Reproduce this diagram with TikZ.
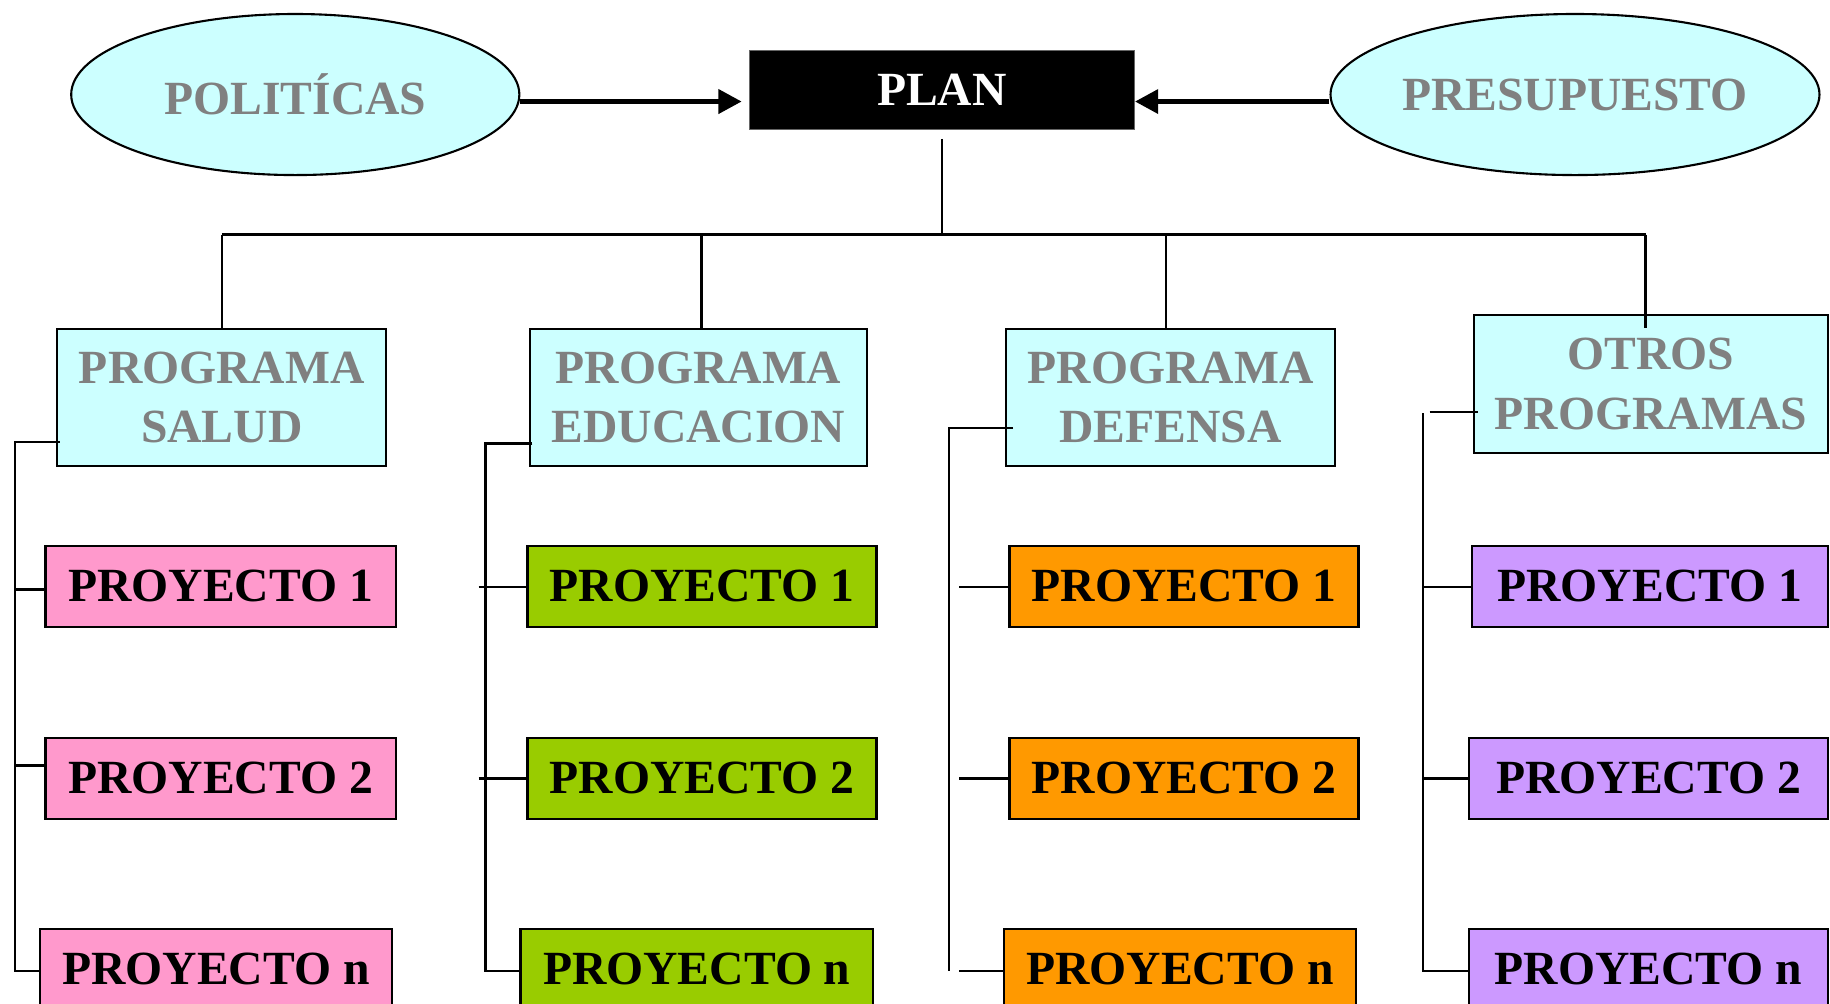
\documentclass[tikz,border=0pt]{standalone}
\usepackage{fontspec}
\setmainfont{Liberation Serif}
\usetikzlibrary{arrows.meta,shapes.geometric}
\definecolor{cyanbg}{HTML}{CCFFFF}
\definecolor{txtgray}{HTML}{808080}
\definecolor{pinkbg}{HTML}{FF99CC}
\definecolor{greenbg}{HTML}{99CC00}
\definecolor{orangebg}{HTML}{FF9900}
\definecolor{purplebg}{HTML}{CC99FF}
\begin{document}
\begin{tikzpicture}[x=0.5pt,y=-0.5pt,
  txt/.style={font=\fontsize{20.4}{25.5}\selectfont\bfseries},
  ell/.style={ellipse, draw, line width=0.9pt, fill=cyanbg, text=txtgray, txt, inner sep=0pt, minimum height=69pt},
  prog/.style={rectangle, draw, line width=0.9pt, fill=cyanbg, text=txtgray, txt, align=center, inner sep=0pt},
  proj/.style={rectangle, draw, line width=0.9pt, txt, inner sep=0pt, minimum height=34.5pt},
  conn/.style={line width=1pt},
  arr/.style={line width=2.4pt, -{Triangle[length=10pt,width=10pt]}}
]
\useasboundingbox (0,0) rectangle (1568,860);
\clip (0,0) rectangle (1568,860);

% top level
\node[ell, minimum width=192pt] (pol) at (253,81) {POLITÍCAS};
\node[ell, minimum width=206.5pt] (pres) at (1349.5,81) {PRESUPUESTO};
\node[rectangle, fill=black, draw=black!60, text=white, txt, minimum width=165pt, minimum height=34pt, inner sep=0pt] (plan) at (807,77) {PLAN};

\coordinate (arry) at (0,87);
\draw[arr, shorten >=3pt] (pol.east |- arry) -- (plan.west |- arry);
\draw[arr] (pres.west |- arry) -- (plan.east |- arry);

% programs
\node[prog, minimum width=141pt, minimum height=58.5pt] (salud) at (190,340.5) {PROGRAMA\\SALUD};
\node[prog, minimum width=144.5pt, minimum height=58.5pt] (edu) at (598.5,340.5) {PROGRAMA\\EDUCACION};
\node[prog, minimum width=141pt, minimum height=58.5pt] (def) at (1003,340.5) {PROGRAMA\\DEFENSA};
\node[prog, minimum width=151.5pt, minimum height=59pt] (otros) at (1414.5,329) {OTROS\\PROGRAMAS};

% bus
\coordinate (plantop) at (807,119);
\coordinate (busL) at (190,201);
\coordinate (busR) at (1410,201);
\coordinate (busE) at (601,201);
\coordinate (busD) at (999,201);
\draw[conn] (plantop) -- (plantop |- busL);
\draw[conn] (busL) -- (busR);
\draw[conn] (busL) -- (salud.north);
\draw[conn] (busE) -- (busE |- edu.north);
\draw[conn] (busD) -- (busD |- def.north);
\draw[conn] (busR) -- ([yshift=-6pt]busR |- otros.north);

% projects column 1
\node[proj, fill=pinkbg, minimum width=150pt] (p11) at (189,502.5) {PROYECTO 1};
\node[proj, fill=pinkbg, minimum width=150pt] (p12) at (189,667) {PROYECTO 2};
\node[proj, fill=pinkbg, minimum width=151pt] (p1n) at (185,830.5) {PROYECTO n};
% column 2
\node[proj, fill=greenbg, minimum width=149.5pt] (p21) at (601.5,502.5) {PROYECTO 1};
\node[proj, fill=greenbg, minimum width=149.5pt] (p22) at (601.5,667) {PROYECTO 2};
\node[proj, fill=greenbg, minimum width=151pt] (p2n) at (597,830.5) {PROYECTO n};
% column 3
\node[proj, fill=orangebg, minimum width=149.5pt] (p31) at (1014.5,502.5) {PROYECTO 1};
\node[proj, fill=orangebg, minimum width=149.5pt] (p32) at (1014.5,667) {PROYECTO 2};
\node[proj, fill=orangebg, minimum width=151pt] (p3n) at (1011,830.5) {PROYECTO n};
% column 4
\node[proj, fill=purplebg, minimum width=152.5pt] (p41) at (1413.5,502.5) {PROYECTO 1};
\node[proj, fill=purplebg, minimum width=153.5pt] (p42) at (1412.5,667) {PROYECTO 2};
\node[proj, fill=purplebg, minimum width=153.5pt] (p4n) at (1412.5,830.5) {PROYECTO n};

% column 1 connectors
\coordinate (s1t) at (13,379);
\coordinate (s1a) at (13,505);
\coordinate (s1b) at (13,656);
\coordinate (s1n) at (13,832);
\draw[conn] ([xshift=1.5pt]salud.west |- s1t) -- (s1t) -- (s1n) -- (s1n -| p1n.west);
\draw[conn] (s1a) -- (s1a -| p11.west);
\draw[conn] (s1b) -- (s1b -| p12.west);

% column 2 connectors
\coordinate (s2t) at (416,380);
\coordinate (s2a) at (410,503);
\coordinate (s2b) at (410,667);
\coordinate (s2n) at (416,832);
\draw[conn] ([xshift=1.5pt]edu.west |- s2t) -- (s2t) -- (s2n) -- (s2n -| p2n.west);
\draw[conn] (s2a) -- (s2a -| p21.west);
\draw[conn] (s2b) -- (s2b -| p22.west);

% column 3 connectors
\coordinate (s3t) at (813,367);
\coordinate (s3n) at (813,832);
\coordinate (s3a) at (822,503);
\coordinate (s3b) at (822,667);
\coordinate (s3c) at (822,832);
\draw[conn] ([xshift=3.5pt]def.west |- s3t) -- (s3t) -- (s3n);
\draw[conn] (s3a) -- (s3a -| p31.west);
\draw[conn] (s3b) -- (s3b -| p32.west);
\draw[conn] (s3c) -- (s3c -| p3n.west);

% column 4 connectors
\coordinate (s4h) at (1225,353);
\coordinate (s4t) at (1219,354);
\coordinate (s4a) at (1219,503);
\coordinate (s4b) at (1219,667);
\coordinate (s4n) at (1219,832);
\draw[conn] (s4h) -- ([xshift=2pt]s4h -| otros.west);
\draw[conn] (s4t) -- (s4n) -- (s4n -| p4n.west);
\draw[conn] (s4a) -- (s4a -| p41.west);
\draw[conn] (s4b) -- (s4b -| p42.west);
\end{tikzpicture}
\end{document}
